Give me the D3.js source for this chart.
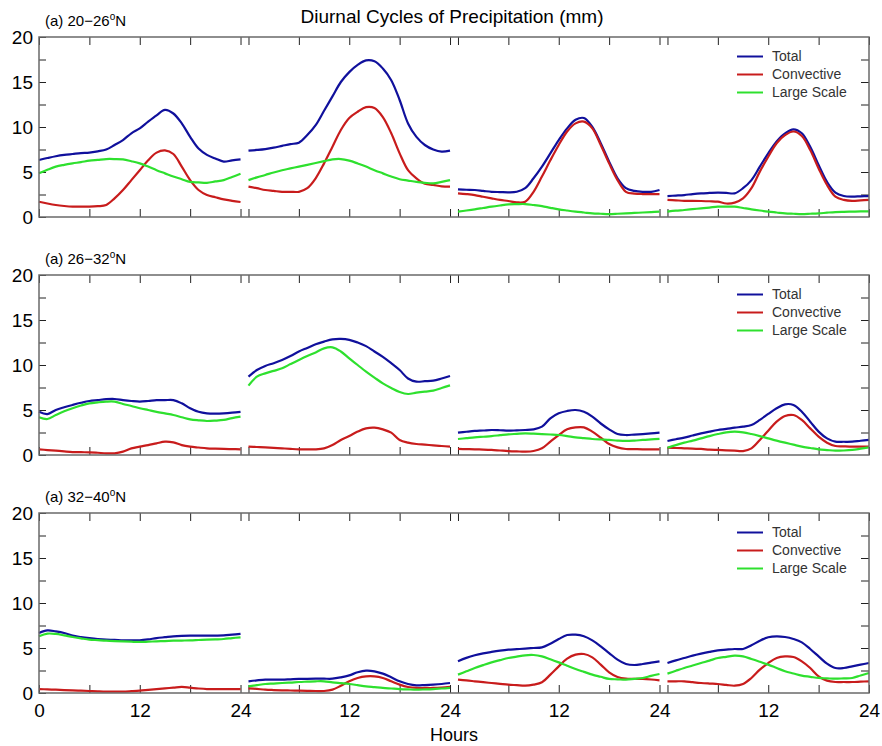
<!DOCTYPE html>
<html>
<head>
<meta charset="utf-8">
<script src="https://cdn.jsdelivr.net/npm/d3@7"></script>
<style>
  body { margin: 0; background: #fff; }
  svg { display: block; font-family: "Liberation Sans", Arial, Helvetica, sans-serif; }
</style>
</head>
<body>
<svg id="chart" width="882" height="746"></svg>
<script>
// Hourly sample points within each 24-hour block
const hours = [0,1,2,3,4,5,6,7,8,9,10,11,12,13,14,15,16,17,18,19,20,21,22,23,24];
const hourTicks = [0, 6, 12, 18, 24];
const yTicksMajor = [0, 5, 10, 15, 20];
const yTicksAll = [0, 2.5, 5, 7.5, 10, 12.5, 15, 17.5, 20];
const latBands = ["20\u221226", "26\u221232", "32\u221240"];
const seriesNames = ["Total", "Convective", "Large Scale"];
const seriesColors = ["#10109c", "#c81c1c", "#2ee02e"];

// 20-26N: four 24-hour blocks per series (mm)
const total_20_26 = [
  [6.33,6.55,6.75,6.9,7.0,7.1,7.15,7.3,7.5,8.0,8.55,9.3,9.85,10.6,11.3,11.9,11.5,10.4,8.9,7.6,6.9,6.5,6.15,6.3,6.4],
  [7.37,7.45,7.55,7.7,7.9,8.1,8.26,9.1,10.2,11.8,13.4,15.0,16.1,16.9,17.4,17.3,16.5,15.2,13.0,10.4,8.9,8.0,7.5,7.26,7.37],
  [3.07,3.03,3.0,2.9,2.8,2.77,2.74,2.8,3.2,4.3,5.6,7.07,8.55,9.85,10.8,11.0,10.0,8.2,6.15,4.3,3.2,2.9,2.8,2.8,3.0],
  [2.33,2.38,2.44,2.55,2.63,2.67,2.7,2.68,2.63,3.2,4.1,5.6,7.07,8.4,9.3,9.74,9.3,7.8,5.78,3.9,2.7,2.33,2.26,2.3,2.33]
];
const conv_20_26 = [
  [1.7,1.5,1.33,1.22,1.15,1.15,1.15,1.2,1.33,2.07,3.0,4.1,5.2,6.3,7.15,7.4,7.0,5.6,4.1,3.0,2.45,2.2,1.96,1.8,1.67],
  [3.37,3.2,3.0,2.9,2.8,2.8,2.8,3.2,4.3,5.96,7.8,9.67,11.0,11.7,12.2,12.1,11.1,9.3,7.07,5.2,4.3,3.7,3.56,3.4,3.37],
  [2.63,2.55,2.44,2.25,2.07,1.9,1.78,1.63,1.7,2.8,4.5,6.3,8.0,9.5,10.4,10.6,9.85,8.0,5.96,4.1,2.8,2.6,2.55,2.55,2.55],
  [1.9,1.85,1.8,1.8,1.78,1.75,1.7,1.5,1.6,2.07,3.2,5.04,6.7,8.2,9.1,9.5,9.0,7.44,5.4,3.56,2.26,1.9,1.8,1.85,1.9]
];
const ls_20_26 = [
  [4.85,5.25,5.6,5.8,5.96,6.1,6.26,6.35,6.44,6.44,6.4,6.2,5.96,5.6,5.2,4.85,4.5,4.2,3.9,3.85,3.8,3.95,4.1,4.45,4.8],
  [4.1,4.4,4.67,4.95,5.2,5.4,5.6,5.8,6.0,6.2,6.4,6.44,6.26,5.95,5.6,5.2,4.85,4.5,4.2,4.05,3.9,3.8,3.74,3.9,4.1],
  [0.6,0.72,0.85,1.0,1.15,1.28,1.4,1.43,1.44,1.33,1.2,1.02,0.85,0.72,0.6,0.5,0.4,0.36,0.33,0.36,0.4,0.45,0.5,0.55,0.6],
  [0.6,0.7,0.78,0.87,0.96,1.05,1.15,1.15,1.15,1.0,0.85,0.72,0.6,0.5,0.4,0.36,0.33,0.36,0.4,0.48,0.55,0.58,0.6,0.62,0.63]
];

// 26-32N
const total_26_32 = [
  [4.8,4.55,5.0,5.3,5.56,5.8,6.0,6.1,6.2,6.22,6.1,6.0,5.93,6.0,6.1,6.1,6.1,5.74,5.2,4.8,4.63,4.6,4.63,4.7,4.8],
  [8.7,9.44,9.9,10.2,10.56,11.0,11.5,11.9,12.3,12.6,12.85,12.9,12.8,12.5,12.1,11.5,10.9,10.2,9.44,8.5,8.15,8.2,8.26,8.5,8.78],
  [2.48,2.58,2.67,2.72,2.78,2.75,2.7,2.74,2.78,2.85,3.15,4.07,4.63,4.89,5.0,4.8,4.26,3.5,2.85,2.33,2.22,2.27,2.33,2.4,2.48],
  [1.56,1.75,1.93,2.17,2.4,2.6,2.78,2.9,3.04,3.15,3.33,3.9,4.56,5.19,5.63,5.56,4.81,3.7,2.6,1.85,1.48,1.47,1.48,1.58,1.67]
];
const conv_26_32 = [
  [0.63,0.55,0.48,0.4,0.33,0.31,0.3,0.25,0.19,0.19,0.37,0.74,0.93,1.1,1.3,1.48,1.4,1.1,0.93,0.83,0.74,0.7,0.67,0.65,0.63],
  [0.93,0.89,0.85,0.8,0.74,0.68,0.63,0.63,0.63,0.74,1.1,1.67,2.1,2.6,2.96,3.04,2.85,2.48,1.67,1.37,1.22,1.15,1.07,1.0,0.93],
  [0.67,0.65,0.63,0.6,0.56,0.5,0.44,0.4,0.37,0.44,0.74,1.48,2.22,2.85,3.07,3.07,2.6,1.93,1.22,0.85,0.67,0.65,0.63,0.63,0.63],
  [0.81,0.78,0.74,0.7,0.67,0.6,0.56,0.52,0.48,0.44,0.74,1.67,2.7,3.7,4.33,4.44,3.89,2.96,2.04,1.37,1.0,0.96,0.93,0.93,0.93]
];
const ls_26_32 = [
  [4.2,4.0,4.44,4.85,5.2,5.5,5.74,5.85,5.93,5.93,5.67,5.45,5.2,5.0,4.8,4.62,4.44,4.2,3.96,3.85,3.78,3.82,3.9,4.1,4.26],
  [7.7,8.7,9.07,9.35,9.63,10.1,10.56,11.0,11.4,11.85,11.96,11.5,10.74,10.0,9.26,8.6,7.96,7.45,7.0,6.78,6.93,7.05,7.15,7.45,7.74],
  [1.78,1.87,1.96,2.03,2.1,2.2,2.3,2.35,2.4,2.37,2.33,2.28,2.22,2.1,1.96,1.87,1.78,1.72,1.67,1.6,1.56,1.6,1.67,1.73,1.8],
  [0.81,1.1,1.37,1.6,1.85,2.1,2.33,2.52,2.59,2.52,2.33,2.1,1.85,1.6,1.37,1.15,0.93,0.78,0.63,0.55,0.48,0.5,0.56,0.7,0.85]
];

// 32-40N
const total_32_40 = [
  [6.67,6.96,6.85,6.67,6.37,6.22,6.1,6.0,5.93,5.9,5.85,5.85,5.85,5.95,6.1,6.2,6.3,6.35,6.37,6.37,6.37,6.38,6.4,6.48,6.56],
  [1.3,1.4,1.48,1.48,1.48,1.52,1.56,1.58,1.59,1.59,1.59,1.74,1.96,2.3,2.48,2.41,2.15,1.74,1.3,1.0,0.85,0.88,0.93,1.0,1.11],
  [3.52,3.9,4.19,4.4,4.56,4.7,4.81,4.87,4.93,5.0,5.07,5.48,6.0,6.44,6.48,6.3,5.85,5.19,4.44,3.7,3.22,3.11,3.22,3.37,3.52],
  [3.33,3.63,3.89,4.15,4.37,4.57,4.74,4.82,4.89,4.89,5.3,5.81,6.19,6.3,6.22,6.0,5.63,4.89,4.07,3.26,2.78,2.78,2.96,3.15,3.33]
];
const conv_32_40 = [
  [0.44,0.4,0.37,0.33,0.3,0.26,0.22,0.18,0.15,0.15,0.15,0.2,0.26,0.35,0.44,0.52,0.59,0.67,0.59,0.5,0.44,0.44,0.44,0.44,0.44],
  [0.52,0.45,0.37,0.33,0.3,0.28,0.26,0.24,0.22,0.22,0.37,0.81,1.3,1.67,1.85,1.85,1.67,1.3,0.93,0.67,0.56,0.56,0.56,0.6,0.67],
  [1.48,1.4,1.3,1.2,1.11,1.02,0.93,0.87,0.81,0.93,1.19,2.04,2.96,3.81,4.26,4.33,3.96,3.15,2.3,1.78,1.59,1.57,1.56,1.5,1.41],
  [1.3,1.3,1.3,1.2,1.11,1.05,1.0,0.9,0.81,1.0,1.67,2.59,3.33,3.89,4.07,4.0,3.52,2.78,1.85,1.37,1.22,1.22,1.22,1.26,1.3]
];
const ls_32_40 = [
  [6.3,6.6,6.56,6.4,6.22,6.07,5.93,5.87,5.81,5.77,5.74,5.7,5.67,5.7,5.74,5.77,5.81,5.83,5.85,5.89,5.93,5.96,6.0,6.1,6.19],
  [0.74,0.87,1.0,1.05,1.11,1.16,1.22,1.26,1.3,1.3,1.18,1.09,1.0,0.87,0.74,0.65,0.56,0.5,0.44,0.4,0.37,0.4,0.44,0.5,0.56],
  [2.04,2.41,2.78,3.1,3.4,3.65,3.89,4.04,4.19,4.22,4.07,3.75,3.4,3.03,2.67,2.35,2.04,1.8,1.56,1.52,1.48,1.57,1.67,1.9,2.11],
  [2.15,2.47,2.78,3.05,3.33,3.6,3.89,4.02,4.15,4.07,3.78,3.47,3.15,2.78,2.41,2.17,1.93,1.8,1.67,1.63,1.59,1.63,1.67,1.95,2.22]
];

const rows = [
  { band: latBands[0], series: [total_20_26, conv_20_26, ls_20_26] },
  { band: latBands[1], series: [total_26_32, conv_26_32, ls_26_32] },
  { band: latBands[2], series: [total_32_40, conv_32_40, ls_32_40] }
];

// Layout
const left = 39, right = 869;
const rowTops = [37, 275, 513];
const rowH = 180;
const blocks = d3.scaleBand().domain([0, 1, 2, 3]).range([left, right]).paddingInner(0.038);

const svg = d3.select("#chart");

svg.append("text")
  .attr("x", 452).attr("y", 23)
  .attr("text-anchor", "middle")
  .attr("font-size", 19)
  .attr("fill", "#000")
  .text("Diurnal Cycles of Precipitation (mm)");

rows.forEach((row, r) => {
  const top = rowTops[r];
  const y = d3.scaleLinear().domain([0, 20]).range([top + rowH, top]);
  const g = svg.append("g");

  // Panel label
  const lab = g.append("text")
    .attr("x", 45).attr("y", top - 11)
    .attr("font-size", 15).attr("fill", "#000");
  lab.append("tspan").text("(a) " + row.band);
  lab.append("tspan").attr("dy", -6).attr("font-size", 10).text("o");
  lab.append("tspan").attr("dy", 6).text("N");

  // Y axes
  const yl = g.append("g").attr("transform", `translate(${left},0)`)
    .call(d3.axisLeft(y).tickValues(yTicksAll).tickSize(-7).tickPadding(6)
      .tickFormat(d => yTicksMajor.includes(d) ? d : ""));
  const yr = g.append("g").attr("transform", `translate(${right},0)`)
    .call(d3.axisRight(y).tickValues(yTicksAll.slice(1, -1)).tickSize(-8).tickFormat(""));

  // Hour ticks on every block
  blocks.domain().forEach(b => {
    const x = d3.scaleLinear().domain([0, 24]).range([blocks(b), blocks(b) + blocks.bandwidth()]);
    g.append("g").attr("transform", `translate(0,${top})`)
      .call(d3.axisTop(x).tickValues(hourTicks).tickSize(-8).tickFormat(""));
    const labelVals = b === 0 ? [0, 12, 24] : [12, 24];
    g.append("g").attr("class", "xb").attr("transform", `translate(0,${top + rowH})`)
      .call(d3.axisBottom(x).tickValues(hourTicks).tickSize(-8).tickPadding(10.5)
        .tickFormat(d => (r === 2 && labelVals.includes(d)) ? d : ""));

    // Series lines
    row.series.forEach((s, k) => {
      const line = d3.line()
        .x((d, i) => x(hours[i]))
        .y(d => y(d))
        .curve(d3.curveCatmullRom.alpha(0.5));
      g.append("path")
        .datum(s[b])
        .attr("fill", "none")
        .attr("stroke", seriesColors[k])
        .attr("stroke-width", 2.2)
        .attr("stroke-linejoin", "round")
        .attr("d", line);
    });
  });

  g.selectAll(".domain").remove();
  g.selectAll(".tick line").attr("stroke", "#222").attr("stroke-width", 1);
  g.selectAll(".tick text").attr("font-size", 19).attr("fill", "#000")
    .attr("font-family", "'Liberation Sans', Arial, sans-serif");

  // Frame
  g.append("rect")
    .attr("x", left).attr("y", top)
    .attr("width", right - left).attr("height", rowH)
    .attr("fill", "none").attr("stroke", "#6a6a6a").attr("stroke-width", 1.5);

  // Legend
  const leg = g.append("g").attr("transform", `translate(737,${top + 19.5})`);
  seriesNames.forEach((name, k) => {
    leg.append("line")
      .attr("x1", 0).attr("x2", 26)
      .attr("y1", k * 18).attr("y2", k * 18)
      .attr("stroke", seriesColors[k]).attr("stroke-width", 2);
    leg.append("text")
      .attr("x", 35).attr("y", k * 18)
      .attr("dy", "0.35em")
      .attr("font-size", 14).attr("fill", "#333")
      .text(name);
  });
});

svg.append("text")
  .attr("x", 454).attr("y", 741)
  .attr("text-anchor", "middle")
  .attr("font-size", 18).attr("fill", "#000")
  .text("Hours");
</script>
</body>
</html>
